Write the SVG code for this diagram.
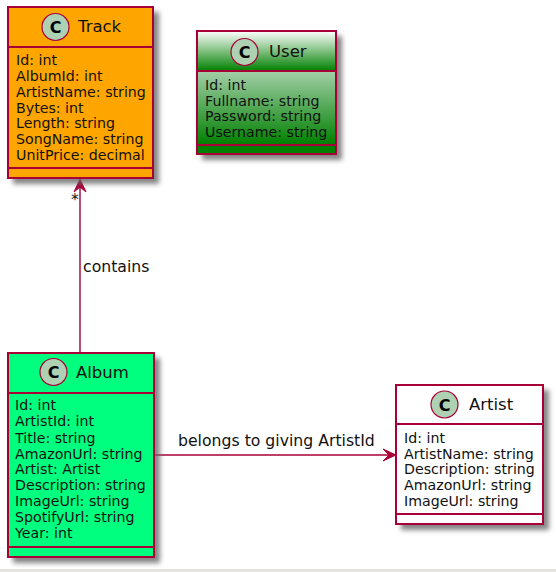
<svg xmlns="http://www.w3.org/2000/svg" width="556" height="572" viewBox="0 0 556 572">
<style>
.box{stroke:#a80036;stroke-width:2}
.div{stroke:#a80036;stroke-width:1.8;fill:none}
.spot{stroke:#a80036;stroke-width:1.2;fill:#add1b2}
.t{font-family:"DejaVu Sans",sans-serif;font-size:14.200px;fill:#111}
.h{font-family:"DejaVu Sans",sans-serif;font-size:16.500px;fill:#111}
.c{font-family:"DejaVu Sans",sans-serif;font-size:16px;font-weight:bold;fill:#000;text-anchor:middle}
.l{font-family:"DejaVu Sans",sans-serif;font-size:15.700px;fill:#111}
.line{stroke:#a80036;stroke-width:1.4;fill:none}
.head{fill:#a80036;stroke:#a80036;stroke-width:1}
</style>
<defs>
<filter id="sh" x="-10%" y="-10%" width="125%" height="125%"><feGaussianBlur stdDeviation="2.500"/></filter>
<linearGradient id="gr" x1="0" y1="0" x2="0" y2="1"><stop offset="0" stop-color="#ffffff"/><stop offset="1" stop-color="#008000"/></linearGradient>
<linearGradient id="gr2" x1="0" y1="0" x2="0" y2="1"><stop offset="0" stop-color="#a3cfa8"/><stop offset="1" stop-color="#008000"/></linearGradient>
</defs>
<rect width="556" height="572" fill="#fff"/>
<rect y="569" width="556" height="3" fill="#e6e4de"/>
<g id="connectors">
<path class="line" d="M80 353V179"/>
<path class="head" d="M74 192L80 179L86 192L80 187Z"/>
<path class="line" d="M154 455H396"/>
<path class="head" d="M383 449L396 455L383 461L389 455Z"/>
<text class="l" x="83" y="272">contains</text>
<text class="l" x="178" y="446">belongs to giving ArtistId</text>
<text class="l" x="71" y="205">*</text>
</g>
<g id="Track">
<rect x="13" y="12" width="146" height="172" fill="#666" opacity=".8" filter="url(#sh)"/>
<rect class="box" x="8" y="7" width="145" height="171" fill="#ffa500"/>
<path class="div" d="M8 47H153M8 168H153"/>
<circle class="spot" cx="55.500" cy="27" r="13.500"/>
<text class="c" x="55.500" y="33">C</text>
<text class="h" x="78" y="32">Track</text>
<text class="t"><tspan x="16" y="65">Id: int</tspan><tspan x="16" y="81">AlbumId: int</tspan><tspan x="16" y="97">ArtistName: string</tspan><tspan x="16" y="113">Bytes: int</tspan><tspan x="16" y="128">Length: string</tspan><tspan x="16" y="144">SongName: string</tspan><tspan x="16" y="160">UnitPrice: decimal</tspan></text>
</g>
<g id="User">
<rect x="202" y="36" width="140" height="124" fill="#666" opacity=".8" filter="url(#sh)"/>
<rect x="197" y="31" width="139" height="40" fill="url(#gr)"/>
<rect x="197" y="71" width="139" height="74" fill="url(#gr2)"/>
<rect x="197" y="145" width="139" height="9" fill="#008000"/>
<rect class="box" x="197" y="31" width="139" height="123" fill="none"/>
<path class="div" d="M197 71H336M197 145H336"/>
<circle class="spot" cx="244.500" cy="52" r="13.500"/>
<text class="c" x="244.500" y="58">C</text>
<text class="h" x="269" y="57">User</text>
<text class="t"><tspan x="205" y="90">Id: int</tspan><tspan x="205" y="106">Fullname: string</tspan><tspan x="205" y="121">Password: string</tspan><tspan x="205" y="137">Username: string</tspan></text>
</g>
<g id="Album">
<rect x="13" y="358" width="147" height="205" fill="#666" opacity=".8" filter="url(#sh)"/>
<rect class="box" x="8" y="353" width="146" height="204" fill="#00ff7f"/>
<path class="div" d="M8 393H154M8 547H154"/>
<circle class="spot" cx="53.500" cy="372" r="13.500"/>
<text class="c" x="53.500" y="378">C</text>
<text class="h" x="76" y="378">Album</text>
<text class="t"><tspan x="15" y="410">Id: int</tspan><tspan x="15" y="426">ArtistId: int</tspan><tspan x="15" y="443">Title: string</tspan><tspan x="15" y="459">AmazonUrl: string</tspan><tspan x="15" y="474">Artist: Artist</tspan><tspan x="15" y="490">Description: string</tspan><tspan x="15" y="506">ImageUrl: string</tspan><tspan x="15" y="522">SpotifyUrl: string</tspan><tspan x="15" y="538">Year: int</tspan></text>
</g>
<g id="Artist">
<rect x="401" y="390" width="148" height="140" fill="#666" opacity=".8" filter="url(#sh)"/>
<rect class="box" x="396" y="385" width="147" height="139" fill="#fff"/>
<path class="div" d="M396 424H543M396 514H543"/>
<circle class="spot" cx="444.500" cy="404.500" r="13.500"/>
<text class="c" x="444.500" y="410.500">C</text>
<text class="h" x="469" y="410">Artist</text>
<text class="t"><tspan x="404" y="443">Id: int</tspan><tspan x="404" y="459">ArtistName: string</tspan><tspan x="404" y="474">Description: string</tspan><tspan x="404" y="490">AmazonUrl: string</tspan><tspan x="404" y="506">ImageUrl: string</tspan></text>
</g>
</svg>
